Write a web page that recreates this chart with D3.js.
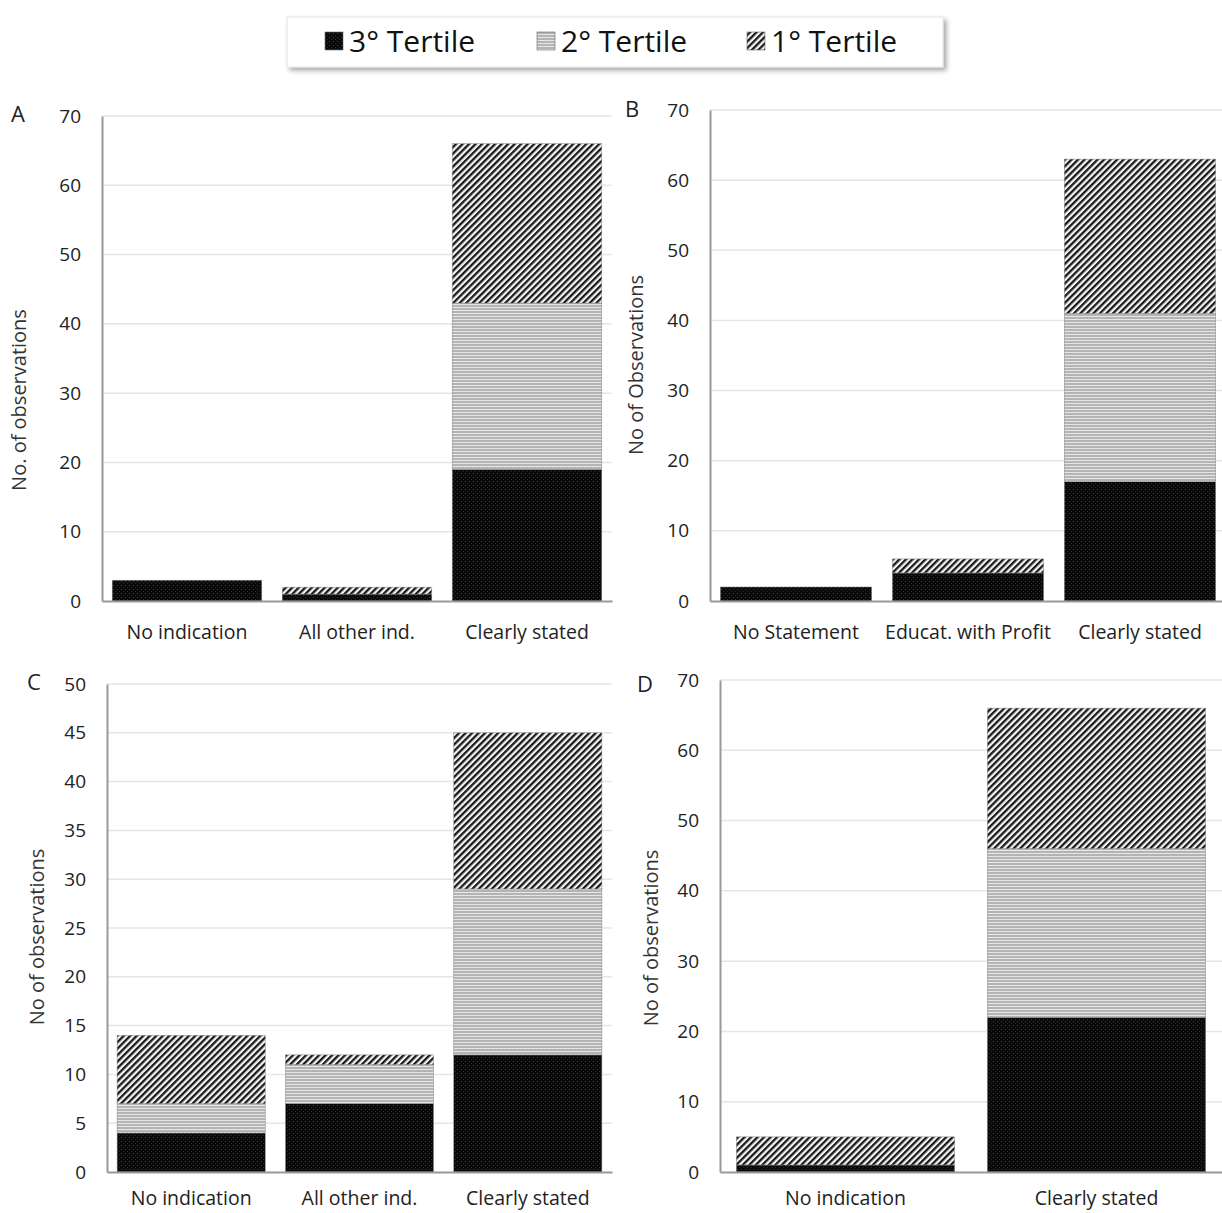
<!DOCTYPE html>
<html>
<head>
<meta charset="utf-8">
<script src="https://cdn.jsdelivr.net/npm/d3@7"></script>
<style>
  html, body { margin: 0; padding: 0; background: #fff; }
  svg { display: block; font-family: "Open Sans", Lato, sans-serif; }
</style>
</head>
<body>
<svg id="chart" width="1222" height="1213"></svg>
<script>
// Tertile series names (legend order)
const seriesNames = ["3° Tertile", "2° Tertile", "1° Tertile"];

// Panel A
const categoriesA = ["No indication", "All other ind.", "Clearly stated"];
const tertile3A = [3, 1, 19];
const tertile2A = [0, 0, 24];
const tertile1A = [0, 1, 23];

// Panel B
const categoriesB = ["No Statement", "Educat. with Profit", "Clearly stated"];
const tertile3B = [2, 4, 17];
const tertile2B = [0, 0, 24];
const tertile1B = [0, 2, 22];

// Panel C
const categoriesC = ["No indication", "All other ind.", "Clearly stated"];
const tertile3C = [4, 7, 12];
const tertile2C = [3, 4, 17];
const tertile1C = [7, 1, 16];

// Panel D
const categoriesD = ["No indication", "Clearly stated"];
const tertile3D = [1, 22];
const tertile2D = [0, 24];
const tertile1D = [4, 20];

// Y tick labels per panel
const ticksA = [0, 10, 20, 30, 40, 50, 60, 70];
const ticksB = [0, 10, 20, 30, 40, 50, 60, 70];
const ticksC = [0, 5, 10, 15, 20, 25, 30, 35, 40, 45, 50];
const ticksD = [0, 10, 20, 30, 40, 50, 60, 70];

const FONT = "'Open Sans', Lato, sans-serif";
const svg = d3.select("#chart");
const defs = svg.append("defs");

// Pattern: 3rd tertile — black with fine dots
const pDots = defs.append("pattern").attr("id", "pat3")
  .attr("patternUnits", "userSpaceOnUse").attr("width", 4).attr("height", 4);
pDots.append("rect").attr("width", 4).attr("height", 4).attr("fill", "#0a0a0a");
pDots.append("rect").attr("x", 1).attr("y", 1).attr("width", 1).attr("height", 1).attr("fill", "#3a3a3a");
pDots.append("rect").attr("x", 3).attr("y", 3).attr("width", 1).attr("height", 1).attr("fill", "#2a2a2a");

// Pattern: 2nd tertile — horizontal grey lines
const pHoriz = defs.append("pattern").attr("id", "pat2")
  .attr("patternUnits", "userSpaceOnUse").attr("width", 6).attr("height", 3);
pHoriz.append("rect").attr("width", 6).attr("height", 3).attr("fill", "#b4b4b4");
pHoriz.append("rect").attr("y", 1).attr("width", 6).attr("height", 1).attr("fill", "#e6e6e6");

// Pattern: 1st tertile — dense diagonal stripes
const pDiag = defs.append("pattern").attr("id", "pat1")
  .attr("patternUnits", "userSpaceOnUse").attr("width", 4.6).attr("height", 4.6)
  .attr("patternTransform", "rotate(45)");
pDiag.append("rect").attr("width", 4.6).attr("height", 4.6).attr("fill", "#f4f4f4");
pDiag.append("rect").attr("width", 2.3).attr("height", 4.6).attr("fill", "#1a1a1a");

const fills = ["url(#pat3)", "url(#pat2)", "url(#pat1)"];

// Legend shadow filter
const shadow = defs.append("filter").attr("id", "shadow")
  .attr("x", "-5%").attr("y", "-20%").attr("width", "115%").attr("height", "160%");
shadow.append("feDropShadow").attr("dx", 3).attr("dy", 3).attr("stdDeviation", 2.5)
  .attr("flood-color", "#000").attr("flood-opacity", 0.35);

// Legend
const legend = svg.append("g");
legend.append("rect").attr("x", 287).attr("y", 17).attr("width", 656).attr("height", 50)
  .attr("fill", "#fff").attr("stroke", "#e4e4e4").attr("filter", "url(#shadow)");
const legendItems = [
  { x: 325, name: seriesNames[0], fill: fills[0] },
  { x: 537, name: seriesNames[1], fill: fills[1] },
  { x: 747, name: seriesNames[2], fill: fills[2] }
];
legendItems.forEach(it => {
  legend.append("rect").attr("x", it.x).attr("y", 32).attr("width", 18).attr("height", 18)
    .attr("fill", it.fill).attr("stroke", "#666").attr("stroke-width", 0.6);
  legend.append("text").attr("x", it.x + 24).attr("y", 52)
    .attr("font-size", 30).attr("fill", "#111").text(it.name);
});

// Panels: layout + references to data arrays
const panels = [
  { label: "A", title: "No. of observations", cats: categoriesA, s: [tertile3A, tertile2A, tertile1A],
    ticks: ticksA, max: 70, left: 102, right: 612, top: 116, bottom: 601, pad: 0.12, xPad: 24,
    labelX: 11, labelY: 122, titleX: 26, titleY: 400 },
  { label: "B", title: "No of Observations", cats: categoriesB, s: [tertile3B, tertile2B, tertile1B],
    ticks: ticksB, max: 70, left: 710, right: 1226, top: 110, bottom: 601, pad: 0.12, xPad: 24,
    labelX: 625, labelY: 117, titleX: 643, titleY: 365 },
  { label: "C", title: "No of observations", cats: categoriesC, s: [tertile3C, tertile2C, tertile1C],
    ticks: ticksC, max: 50, left: 107, right: 612, top: 684, bottom: 1172, pad: 0.12, xPad: 19,
    labelX: 27, labelY: 690, titleX: 44, titleY: 937 },
  { label: "D", title: "No of observations", cats: categoriesD, s: [tertile3D, tertile2D, tertile1D],
    ticks: ticksD, max: 70, left: 720, right: 1222, top: 680, bottom: 1172, pad: 0.13, xPad: 19,
    labelX: 637, labelY: 692, titleX: 658, titleY: 938 }
];

panels.forEach(p => {
  const g = svg.append("g");
  const x = d3.scaleBand().domain(p.cats).range([p.left, p.right]).paddingInner(p.pad).paddingOuter(p.pad / 2);
  const y = d3.scaleLinear().domain([0, p.max]).range([p.bottom, p.top]);

  // gridlines
  g.append("g").selectAll("line").data(p.ticks.filter(t => t > 0)).join("line")
    .attr("x1", p.left).attr("x2", p.right)
    .attr("y1", d => y(d)).attr("y2", d => y(d))
    .attr("stroke", "#e6e6e6").attr("stroke-width", 1.5);

  // stacked bars
  const rows = p.cats.map((c, i) => {
    const r = { cat: c };
    seriesNames.forEach((n, k) => r[n] = p.s[k][i]);
    return r;
  });
  const stacked = d3.stack().keys(seriesNames)(rows);
  stacked.forEach((layer, k) => {
    g.append("g").selectAll("rect").data(layer.filter(d => d[1] - d[0] > 0)).join("rect")
      .attr("x", d => x(d.data.cat))
      .attr("width", x.bandwidth())
      .attr("y", d => y(d[1]))
      .attr("height", d => y(d[0]) - y(d[1]))
      .attr("fill", fills[k])
      .attr("stroke", "#888").attr("stroke-width", 0.5);
  });

  // y axis
  const yAxis = d3.axisLeft(y).tickValues(p.ticks).tickSize(0).tickPadding(21).tickFormat(d3.format("d"));
  const ya = g.append("g").attr("transform", `translate(${p.left},0)`).call(yAxis);
  ya.select(".domain").attr("stroke", "#999").attr("stroke-width", 2);
  ya.selectAll("text").attr("font-size", 19).attr("fill", "#222").attr("font-family", FONT);

  // x axis
  const xAxis = d3.axisBottom(x).tickSize(0).tickPadding(p.xPad);
  const xa = g.append("g").attr("transform", `translate(0,${p.bottom})`).call(xAxis);
  xa.select(".domain").attr("stroke", "#999").attr("stroke-width", 2);
  xa.selectAll("text").attr("font-size", 19.5).attr("fill", "#222").attr("font-family", FONT);

  // panel letter
  g.append("text").attr("x", p.labelX).attr("y", p.labelY)
    .attr("font-size", 22).attr("fill", "#222").text(p.label);

  // y axis title
  g.append("text").attr("transform", `translate(${p.titleX},${p.titleY}) rotate(-90)`)
    .attr("text-anchor", "middle").attr("font-size", 20).attr("fill", "#333").text(p.title);
});
</script>
</body>
</html>
